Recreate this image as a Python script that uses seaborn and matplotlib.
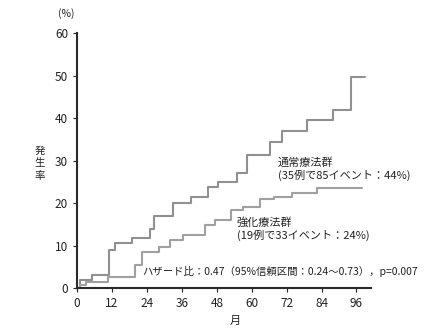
import matplotlib
matplotlib.use("Agg")
import matplotlib.pyplot as plt
import seaborn as sns
import pandas as pd

# Data (cumulative incidence %, step curves)
usual_months = [0, 1, 5, 11, 13, 19, 25, 26.5, 33, 39, 45, 48.5, 55, 58.5, 66.4, 70.5, 79, 88, 94, 99]
usual_values = [0, 1.9, 3, 9, 10.5, 11.7, 14, 17, 20, 21.4, 23.8, 25, 27, 31.3, 34.4, 37, 39.5, 42, 49.7, 49.7]
intensive_months = [0, 1, 3, 10.5, 20, 22.4, 28, 32, 36.5, 44, 47.5, 53, 57, 63, 67.5, 74, 82.5, 98]
intensive_values = [0, 0.7, 1.4, 2.6, 5.4, 8.5, 9.7, 11.3, 12.5, 14.8, 16, 18.4, 19, 21, 21.4, 22.3, 23.5, 23.5]

x_ticks = [0, 12, 24, 36, 48, 60, 72, 84, 96]
y_ticks = [0, 10, 20, 30, 40, 50, 60]

usual_label = "通常療法群\n(35例で85イベント：44%)"
intensive_label = "強化療法群\n(19例で33イベント：24%)"
hr_label = "ハザード比：0.47（95%信頼区間：0.24～0.73），p=0.007"

sns.set_style("ticks")
plt.rcParams['font.family'] = ['Noto Sans CJK JP', 'DejaVu Sans']

df_u = pd.DataFrame({"month": usual_months, "value": usual_values})
df_i = pd.DataFrame({"month": intensive_months, "value": intensive_values})

fig = plt.figure(figsize=(4.26, 3.35), dpi=100)
ax = fig.add_axes([0.181, 0.140, 0.690, 0.761])

sns.lineplot(data=df_u, x="month", y="value", drawstyle="steps-post",
             color="#909090", linewidth=1.5, ax=ax)
sns.lineplot(data=df_i, x="month", y="value", drawstyle="steps-post",
             color="#a0a0a0", linewidth=1.5, ax=ax)

ax.set_xlim(0, 101)
ax.set_ylim(0, 60)
ax.set_xticks(x_ticks)
ax.set_yticks(y_ticks)
ax.tick_params(axis="both", labelsize=8.5, length=3, width=0.8, colors="#222222", direction="out")
for s in ["top", "right"]:
    ax.spines[s].set_visible(False)
for s in ["left", "bottom"]:
    ax.spines[s].set_linewidth(1.5)
    ax.spines[s].set_color("#2a2a2a")

ax.set_xlabel("月", fontsize=8, color="#222222")
ax.xaxis.set_label_coords(0.537, -0.11)
ax.set_ylabel("")
ax.text(-0.126, 0.49, "発\n生\n率", transform=ax.transAxes, fontsize=7.5,
        ha="center", va="center", linespacing=1.35, color="#222222")
ax.text(-0.037, 1.075, "(%)", transform=ax.transAxes, fontsize=7.5,
        ha="center", va="center", color="#222222")

ax.text(69, 30.8, usual_label, fontsize=8, ha="left", va="top",
        linespacing=1.2, color="#222222")
ax.text(54.8, 16.8, intensive_label, fontsize=8, ha="left", va="top",
        linespacing=1.2, color="#222222")
ax.text(22.4, 3.8, hr_label, fontsize=7.5, ha="left", va="center", color="#222222")

fig.savefig("out.png", dpi=100)
